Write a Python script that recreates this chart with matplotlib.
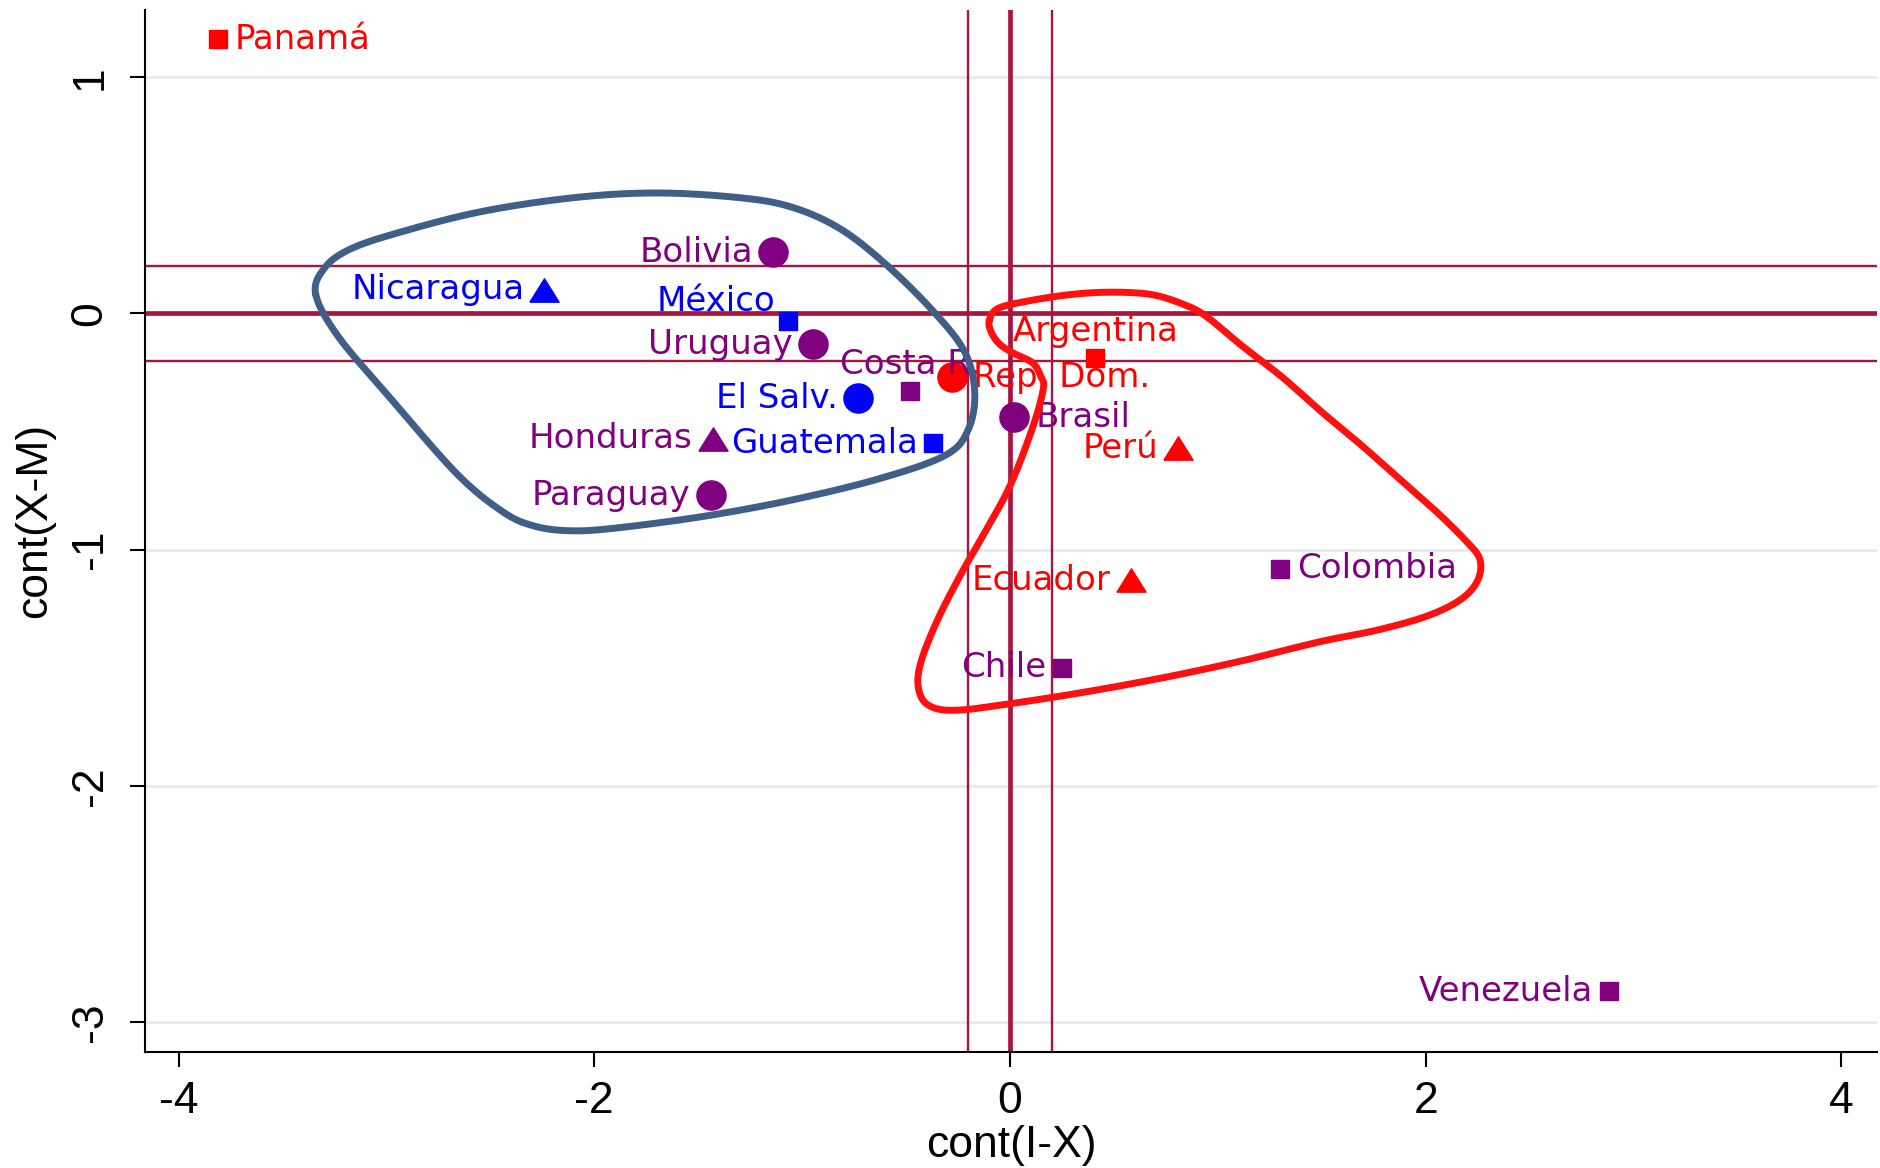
import numpy as np
import matplotlib.pyplot as plt

plt.rcParams['font.family'] = ['Liberation Sans', 'DejaVu Sans']
plt.rcParams['axes.unicode_minus'] = False

# country positions: cont(I-X) vs cont(X-M)
countries = ['Panamá', 'Nicaragua', 'Bolivia', 'México', 'Uruguay', 'Costa R.',
             'Rep. Dom.', 'El Salv.', 'Brasil', 'Argentina', 'Perú', 'Honduras',
             'Guatemala', 'Paraguay', 'Ecuador', 'Colombia', 'Chile', 'Venezuela']
cont_ix = [-3.81, -2.24, -1.14, -1.07, -0.95, -0.48, -0.28, -0.73, 0.02, 0.41,
           0.81, -1.43, -0.37, -1.44, 0.58, 1.30, 0.25, 2.88]
cont_xm = [1.16, 0.10, 0.26, -0.03, -0.13, -0.33, -0.27, -0.36, -0.44, -0.19,
           -0.57, -0.53, -0.55, -0.77, -1.13, -1.08, -1.50, -2.87]
group = ['red', 'blue', 'purple', 'blue', 'purple', 'purple', 'red', 'blue', 'purple',
         'red', 'red', 'purple', 'blue', 'purple', 'red', 'purple', 'purple', 'purple']
symbol = ['s', '^', 'o', 's', 'o', 's', 'o', 'o', 'o', 's', '^', '^', 's', 'o', '^',
          's', 's', 's']
label_pos = ['r', 'l', 'l', 'ul', 'l', 'u', 'r', 'l', 'r', 'u', 'l', 'l', 'l', 'l', 'l',
             'r', 'l', 'l']

# reference lines
hlines = [0.2, 0.0, -0.2]
vlines = [-0.2, 0.0, 0.2]

# hand-drawn group outlines (data coordinates)
blue_loop_x = [-3.34, -3.30, -3.18, -2.95, -2.55, -2.10, -1.70, -1.30, -1.05, -0.82,
               -0.60, -0.37, -0.22, -0.17, -0.20, -0.31, -0.63, -1.05, -1.48, -1.91,
               -2.12, -2.29, -2.44, -2.66, -2.98, -3.23]
blue_loop_y = [0.08, 0.19, 0.27, 0.34, 0.43, 0.49, 0.51, 0.49, 0.45, 0.36,
               0.21, 0.01, -0.16, -0.33, -0.49, -0.60, -0.70, -0.79, -0.86, -0.91,
               -0.92, -0.90, -0.84, -0.68, -0.36, -0.10]
red_loop_x = [-0.10, -0.06, 0.07, 0.29, 0.49, 0.68, 0.83, 0.94, 1.12, 1.31, 1.49,
              1.68, 1.86, 2.04, 2.19, 2.26, 2.25, 2.17, 2.01, 1.77, 1.49, 1.12,
              0.75, 0.38, 0.02, -0.26, -0.39, -0.44, -0.43, -0.35, -0.24, -0.13,
              0.00, 0.11, 0.16, 0.15, 0.11, 0.02, -0.05, -0.09]
red_loop_y = [-0.03, 0.02, 0.05, 0.08, 0.09, 0.08, 0.04, -0.01, -0.14, -0.27, -0.41,
              -0.55, -0.69, -0.83, -0.96, -1.04, -1.13, -1.21, -1.28, -1.34, -1.39,
              -1.47, -1.54, -1.60, -1.65, -1.68, -1.66, -1.59, -1.48, -1.30, -1.11,
              -0.94, -0.73, -0.48, -0.32, -0.27, -0.21, -0.17, -0.13, -0.08]

col = {'red': '#ff0000', 'blue': '#0000ff', 'purple': '#800080'}
line_col = '#a8163f'
tri = [(-1, -0.8), (1, -0.8), (0, 0.8), (-1, -0.8)]
msize = {'o': 21, 's': 13.5, '^': 21}
half = {'o': 10.5, 's': 7, '^': 10.5}


def closed_curve(xs, ys, n=30):
    # periodic Catmull-Rom through the outline points
    p = np.column_stack([xs, ys])
    m = len(p)
    out = []
    t = np.linspace(0, 1, n, endpoint=False)[:, None]
    for i in range(m):
        p0, p1, p2, p3 = p[i - 1], p[i], p[(i + 1) % m], p[(i + 2) % m]
        seg = 0.5 * ((2 * p1) + (-p0 + p2) * t
                     + (2 * p0 - 5 * p1 + 4 * p2 - p3) * t ** 2
                     + (-p0 + 3 * p1 - 3 * p2 + p3) * t ** 3)
        out.append(seg)
    out = np.vstack(out + [out[0][:1]])
    return out[:, 0], out[:, 1]


fig = plt.figure(figsize=(18.8, 11.68), dpi=100)
ax = fig.add_axes([0.0773, 0.0993, 0.921, 0.892])

for yv in [1, -1, -2, -3]:
    ax.axhline(yv, color='#e3ebeb', lw=2, zorder=0)

for yv in hlines:
    ax.axhline(yv, color=line_col, lw=3.4 if yv == 0 else 1.7, zorder=1)
for xv in vlines:
    ax.axvline(xv, color=line_col, lw=3.4 if xv == 0 else 1.7, zorder=1)

for name, x, y, g, s, pos in zip(countries, cont_ix, cont_xm, group, symbol, label_pos):
    c = col[g]
    mk = tri if s == '^' else s
    ax.plot([x], [y], marker=mk, color=c, markersize=msize[s], mec=c,
            ls='none', zorder=3)
    h = half[s]
    if pos == 'l':
        off, ha, va = (-h - 4, 0), 'right', 'center'
    elif pos == 'r':
        off, ha, va = (h + 5, 0), 'left', 'center'
    elif pos == 'u':
        off, ha, va = (0, 19), 'center', 'center'
    else:
        off, ha, va = (-h - 2, 14), 'right', 'center'
    ax.annotate(name, (x, y), xytext=off, textcoords='offset points',
                ha=ha, va=va, color=c, fontsize=24.5, family=['DejaVu Sans'],
                zorder=4)

bx, by = closed_curve(blue_loop_x, blue_loop_y)
ax.plot(bx, by, color='#3f5f86', lw=5, zorder=5, solid_capstyle='round')
rx, ry = closed_curve(red_loop_x, red_loop_y)
ax.plot(rx, ry, color='#ff1010', lw=5, zorder=5, solid_capstyle='round')

ax.set_xlim(-4.16, 4.17)
ax.set_ylim(-3.127, 1.284)
ax.set_xticks([-4, -2, 0, 2, 4])
ax.set_xticklabels(['-4', '-2', '0', '2', '4'])
ax.set_yticks([-3, -2, -1, 0, 1])
ax.set_yticklabels(['-3', '-2', '-1', '0', '1'], rotation=90, va='center')
ax.tick_params(direction='out', length=11, width=1.5, labelsize=32, pad=10)
ax.tick_params(axis='y', pad=14)
for sp in ['top', 'right']:
    ax.spines[sp].set_visible(False)
for sp in ['left', 'bottom']:
    ax.spines[sp].set_linewidth(1.5)

ax.set_xlabel('cont(I-X)', fontsize=32)
ax.set_ylabel('cont(X-M)', fontsize=32)
ax.xaxis.set_label_coords(0.5, -0.07)
ax.yaxis.set_label_coords(-0.052, 0.51)

fig.savefig('out.png', dpi=100, facecolor='white')
